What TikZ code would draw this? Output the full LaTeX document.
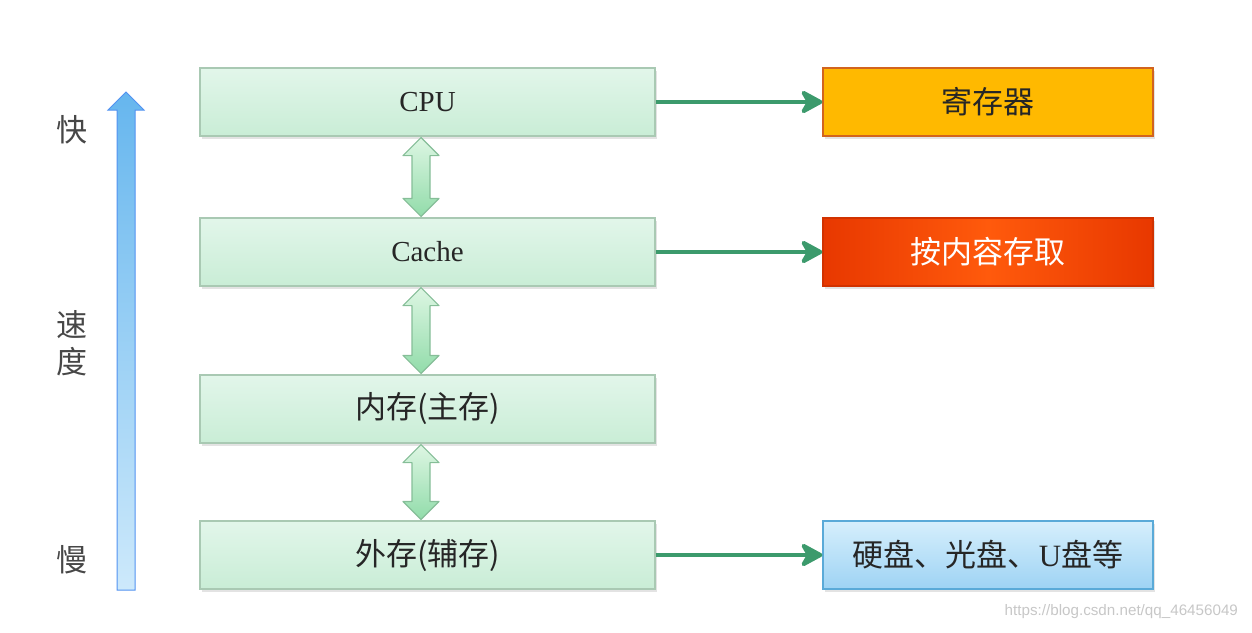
\documentclass[tikz,border=0pt]{standalone}
\usepackage{fontspec}
\setmainfont{Liberation Serif}
\setsansfont{Liberation Sans}
\newfontfamily\cjk{Noto Sans CJK SC}
\usepackage{tikz}
\usetikzlibrary{arrows.meta,positioning,calc,shadows}
\usepackage{xcolor}
\definecolor{lvtop}{HTML}{E2F6EA}
\definecolor{lvbot}{HTML}{C9EDD6}
\definecolor{lvline}{HTML}{A9C9B3}
\definecolor{mapgreen}{HTML}{3C9A6C}
\definecolor{regfill}{HTML}{FFB900}
\definecolor{regline}{HTML}{D2641E}
\definecolor{camred}{HTML}{E83800}
\definecolor{camlight}{HTML}{FF5A0C}
\definecolor{disktop}{HTML}{D6EFFC}
\definecolor{diskbot}{HTML}{9ED3F4}
\definecolor{diskline}{HTML}{5AAAD8}
\definecolor{speedtop}{HTML}{66B6EE}
\definecolor{speedbot}{HTML}{CDE9FB}
\definecolor{linktop}{HTML}{DDF6E3}
\definecolor{linkbot}{HTML}{92DCAA}
\definecolor{linkline}{HTML}{86BE98}
\definecolor{txt}{HTML}{262626}

% double arrow between two stacked levels
\newcommand{\linkarrow}[2]{%
  \draw[linkarr] ($(#1.south)+(-6.5,1)$) -- ($(#1.south)+(-24.5,19)$)
    -- ($(#1.south)+(-15.5,19)$) -- ($(#2.north)+(-15.5,-19)$)
    -- ($(#2.north)+(-24.5,-19)$) -- ($(#2.north)+(-6.5,-1)$)
    -- ($(#2.north)+(11.5,-19)$) -- ($(#2.north)+(2.5,-19)$)
    -- ($(#1.south)+(2.5,19)$) -- ($(#1.south)+(11.5,19)$) -- cycle;}

\begin{document}
\begin{tikzpicture}[x=0.5pt, y=-0.5pt,
  font=\fontsize{15.5}{18}\selectfont\cjk, text=txt,
  level/.style={draw=lvline, line width=0.6pt, top color=lvtop, bottom color=lvbot,
    minimum width=227.5pt, minimum height=34pt, inner sep=0pt,
    drop shadow={opacity=0.22, shadow xshift=1pt, shadow yshift=-1.5pt}},
  kind/.style={minimum width=165pt, minimum height=34pt, inner sep=0pt, line width=0.6pt,
    drop shadow={opacity=0.22, shadow xshift=1pt, shadow yshift=-1.5pt}},
  maparr/.style={draw=mapgreen, line width=2pt,
    -{Stealth[length=13pt, width=14pt, inset=4pt, round]}},
  linkarr/.style={draw=linkline, line width=0.6pt, top color=linktop, bottom color=linkbot,
    line join=round},
  side/.style={text=txt!85}]
\useasboundingbox (0,0) rectangle (1252,632);
% ---------- speed axis ----------
\draw[draw=speedtop!80!blue, line width=0.5pt, top color=speedtop, bottom color=speedbot]
  (117,590) -- (117,110) -- (108,110) -- (126,92) -- (144,110) -- (135,110) -- (135,590) -- cycle;
\node[side] (fast) at (72,130) {快};
\node[side] (spd) at (72,325) {速};
\node[side] (deg) at (72,362) {度};
\node[side] (slow) at (72,560) {慢};
% ---------- levels ----------
\node[level, font=\fontsize{14.5}{17}\selectfont\rmfamily] (cpu) at (427.5,102) {CPU};
\node[level, font=\fontsize{14.5}{17}\selectfont\rmfamily] (cache) at (427.5,252) {Cache};
\node[level] (mem) at (427.5,409) {内存(主存)};
\node[level] (ext) at (427.5,555) {外存(辅存)};
\linkarrow{cpu}{cache}
\linkarrow{cache}{mem}
\linkarrow{mem}{ext}
% ---------- examples ----------
\node[kind, draw=regline, fill=regfill] (reg) at (988,102) {寄存器};
\node[kind, draw=camred!90!black, left color=camred, right color=camred,
  middle color=camlight, text=white] (cam) at (988,252) {按内容存取};
\node[kind, draw=diskline, top color=disktop, bottom color=diskbot] (disk) at (988,555)
  {硬盘、光盘、{\rmfamily U}盘等};
\draw[maparr] (cpu.east) -- (reg.west);
\draw[maparr] (cache.east) -- (cam.west);
\draw[maparr] (ext.east) -- (disk.west);
% ---------- watermark ----------
\node[anchor=east, font=\fontsize{7.6}{9}\selectfont\sffamily, text=black!22] (mark)
  at (1245,612) {https://blog.csdn.net/qq\_46456049};
\end{tikzpicture}
\end{document}
